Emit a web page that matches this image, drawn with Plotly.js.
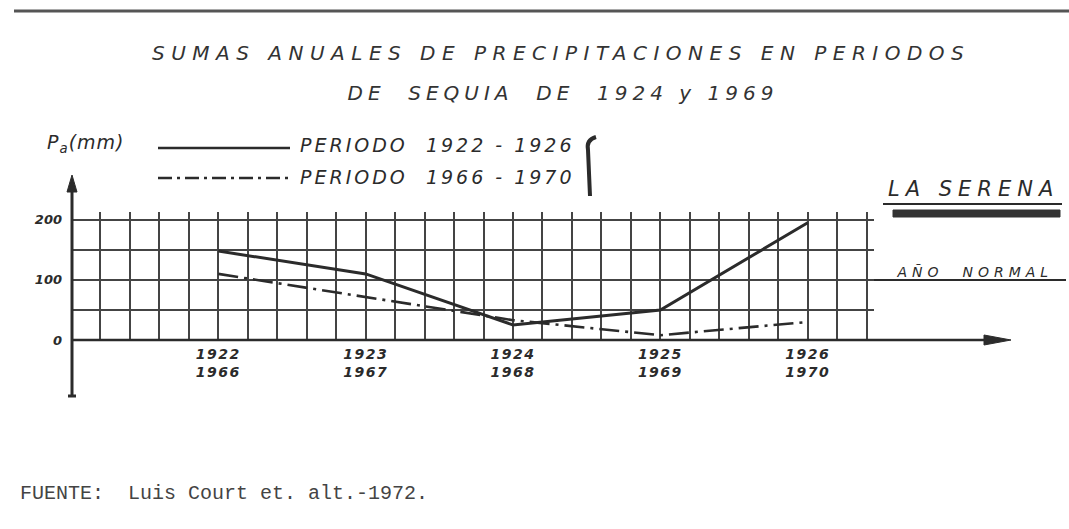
<!DOCTYPE html>
<html>
<head>
<meta charset="utf-8">
<script src="https://cdn.plot.ly/plotly-3.0.1.min.js"></script>
<style>
  html, body { margin: 0; padding: 0; background: #ffffff; }
  #chart { width: 1069px; height: 529px; }
  g.annotation[data-index="0"] text.annotation-text { letter-spacing: 6.5px; }
  g.annotation[data-index="1"] text.annotation-text { letter-spacing: 5px; }
  g.annotation[data-index="2"] text.annotation-text { letter-spacing: 1px; }
  g.annotation[data-index="3"] text.annotation-text { letter-spacing: 3px; }
  g.annotation[data-index="4"] text.annotation-text { letter-spacing: 3px; }
  g.annotation[data-index="5"] text.annotation-text { letter-spacing: 6px; }
  g.annotation[data-index="6"] text.annotation-text { letter-spacing: 5px; }
  .xtick text { letter-spacing: 1.5px; }
</style>
</head>
<body>
<div id="chart"></div>
<script>
// ---- data ----
const periodA = [1922, 1923, 1924, 1925, 1926];
const periodB = [1966, 1967, 1968, 1969, 1970];
const precipA = [148, 110, 25, 50, 195];   // PERIODO 1922 - 1926 (mm)
const precipB = [110, 71, 33, 8, 30];      // PERIODO 1966 - 1970 (mm)
const yTickVals = [0, 100, 200];
const normalYear = 100;                     // AÑO NORMAL

const tickText = periodA.map((a, i) => a + '<br>' + periodB[i]);

// ---- layout geometry (pixels -> paper) ----
const W = 1069, H = 529;
const L = 71, R = 874, T = 212, B = 340;
const px = x => (x - L) / (R - L);
const py = y => (B - y) / (B - T);

const ink = '#2b2b2b';
const gridInk = '#444444';
const font = 'DejaVu Sans, Liberation Sans, sans-serif';

const traces = [
  {
    x: periodA, y: precipA, type: 'scatter', mode: 'lines',
    name: 'PERIODO 1922 - 1926',
    line: { color: ink, width: 3 }, showlegend: false, hoverinfo: 'skip'
  },
  {
    x: periodA, y: precipB, type: 'scatter', mode: 'lines',
    name: 'PERIODO 1966 - 1970',
    line: { color: ink, width: 2.6, dash: '20px,6px,3px,6px' }, showlegend: false, hoverinfo: 'skip'
  }
];

const shapes = [
  // scan frame at top
  { type: 'line', xref: 'paper', yref: 'paper', x0: px(14), x1: px(1069), y0: py(11), y1: py(11),
    line: { color: '#555', width: 3 } },
  // legend samples
  { type: 'line', xref: 'paper', yref: 'paper', x0: px(158), x1: px(290), y0: py(148), y1: py(148),
    line: { color: ink, width: 2.5 } },
  { type: 'line', xref: 'paper', yref: 'paper', x0: px(158), x1: px(290), y0: py(178), y1: py(178),
    line: { color: ink, width: 2.5, dash: '14px,5px,3px,5px' } },
  // brace
  { type: 'path', xref: 'paper', yref: 'paper',
    path: `M ${px(596)},${py(137)} Q ${px(586)},${py(140)} ${px(588)},${py(150)} L ${px(590)},${py(196)}`,
    line: { color: ink, width: 4 } },
  // año normal extension
  { type: 'line', xref: 'paper', yref: 'y', x0: 1, x1: px(1066), y0: normalYear, y1: normalYear,
    line: { color: ink, width: 2 } },
  // x axis line + arrow head
  { type: 'line', xref: 'paper', yref: 'paper', x0: px(72), x1: px(990), y0: py(340), y1: py(340),
    line: { color: ink, width: 2.5 } },
  { type: 'path', xref: 'paper', yref: 'paper',
    path: `M ${px(984)},${py(335)} L ${px(1011)},${py(340)} L ${px(984)},${py(345)} Z`,
    fillcolor: ink, line: { color: ink, width: 1 } },
  // y axis line + arrow head
  { type: 'line', xref: 'paper', yref: 'paper', x0: px(72), x1: px(72), y0: py(186), y1: py(396),
    line: { color: ink, width: 3 } },
  { type: 'path', xref: 'paper', yref: 'paper',
    path: `M ${px(67)},${py(192)} L ${px(72)},${py(175)} L ${px(77)},${py(192)} Z`,
    fillcolor: ink, line: { color: ink, width: 1 } },
  { type: 'line', xref: 'paper', yref: 'paper', x0: px(68), x1: px(76), y0: py(396), y1: py(396),
    line: { color: ink, width: 3 } },
  // LA SERENA underline and bar
  { type: 'line', xref: 'paper', yref: 'paper', x0: px(883), x1: px(1062), y0: py(204), y1: py(204),
    line: { color: ink, width: 2 } },
  { type: 'rect', xref: 'paper', yref: 'paper', x0: px(893), x1: px(1060), y0: py(210), y1: py(217),
    fillcolor: '#333', line: { color: '#333', width: 1 } }
];

const annotations = [
  { text: 'SUMAS ANUALES DE PRECIPITACIONES EN PERIODOS', xref: 'paper', yref: 'paper',
    x: px(561), y: py(53), xanchor: 'center', yanchor: 'middle', showarrow: false,
    font: { family: font, size: 20, color: '#333', style: 'italic' } },
  { text: 'DE&nbsp; SEQUIA&nbsp; DE&nbsp; 1924 y 1969', xref: 'paper', yref: 'paper',
    x: px(563), y: py(93), xanchor: 'center', yanchor: 'middle', showarrow: false,
    font: { family: font, size: 20, color: '#333', style: 'italic' } },
  { text: 'P<sub>a</sub>(mm)', xref: 'paper', yref: 'paper',
    x: px(85), y: py(143), xanchor: 'center', yanchor: 'middle', showarrow: false,
    font: { family: font, size: 19, color: ink, style: 'italic' } },
  { text: 'PERIODO&nbsp; 1922 - 1926', xref: 'paper', yref: 'paper',
    x: px(437), y: py(145), xanchor: 'center', yanchor: 'middle', showarrow: false,
    font: { family: font, size: 19, color: ink, style: 'italic' } },
  { text: 'PERIODO&nbsp; 1966 - 1970', xref: 'paper', yref: 'paper',
    x: px(437), y: py(177), xanchor: 'center', yanchor: 'middle', showarrow: false,
    font: { family: font, size: 19, color: ink, style: 'italic' } },
  { text: 'LA SERENA', xref: 'paper', yref: 'paper',
    x: px(973), y: py(189), xanchor: 'center', yanchor: 'middle', showarrow: false,
    font: { family: font, size: 21, color: ink, style: 'italic' } },
  { text: 'AÑO&nbsp; NORMAL', xref: 'paper', yref: 'paper',
    x: px(975), y: py(272), xanchor: 'center', yanchor: 'middle', showarrow: false,
    font: { family: font, size: 14, color: ink, style: 'italic' } },
  { text: 'FUENTE:&nbsp; Luis Court et. alt.-1972.', xref: 'paper', yref: 'paper',
    x: px(18), y: py(493), xanchor: 'left', yanchor: 'middle', showarrow: false,
    font: { family: 'Liberation Mono, Courier New, monospace', size: 20, color: '#444' } }
];

const layout = {
  width: W, height: H,
  margin: { l: L, r: W - R, t: T, b: H - B, pad: 0 },
  paper_bgcolor: '#ffffff', plot_bgcolor: '#ffffff',
  showlegend: false,
  hovermode: false,
  xaxis: {
    range: [1921, 1926.45],
    tickmode: 'array', tickvals: periodA, ticktext: tickText,
    showgrid: true, gridcolor: gridInk, gridwidth: 2,
    minor: { tick0: 1921, dtick: 0.2, showgrid: true, gridcolor: gridInk, gridwidth: 2, ticks: '' },
    zeroline: false, showline: false, ticks: '',
    tickfont: { family: font, size: 14, color: ink, style: 'italic', weight: 'bold' },
    ticklabelstandoff: 4
  },
  yaxis: {
    range: [0, 213],
    tickmode: 'array', tickvals: yTickVals,
    showgrid: true, gridcolor: gridInk, gridwidth: 2,
    minor: { tick0: 0, dtick: 50, showgrid: true, gridcolor: gridInk, gridwidth: 2, ticks: '' },
    zeroline: false, showline: false, ticks: '',
    tickfont: { family: font, size: 13, color: ink, style: 'italic', weight: 'bold' },
    ticklabelstandoff: 8
  },
  shapes: shapes,
  annotations: annotations
};

Plotly.newPlot('chart', traces, layout, { displayModeBar: false, staticPlot: true });
</script>
</body>
</html>
